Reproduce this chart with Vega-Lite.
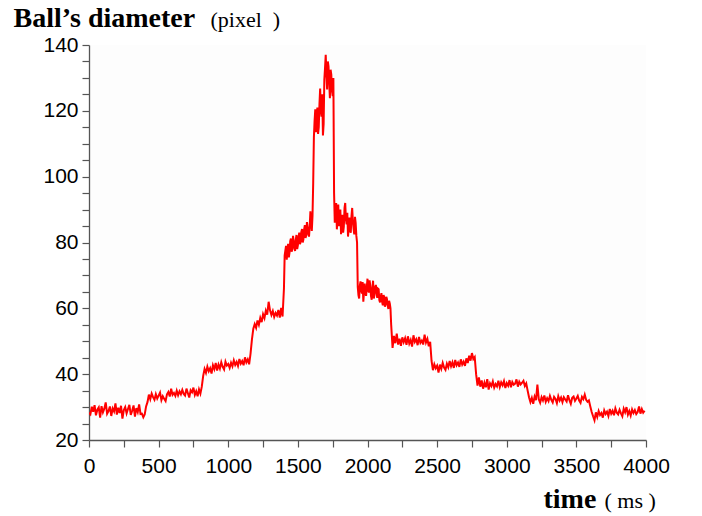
{
  "$schema": "https://vega.github.io/schema/vega-lite/v6.json",
  "width": 557,
  "height": 395,
  "autosize": {"type": "none"},
  "padding": {"left": 89, "top": 45, "right": 56, "bottom": 76},
  "background": "#ffffff",
  "config": {
    "view": {"stroke": null, "fill": "#fdfdfd"},
    "axis": {
      "grid": false,
      "domainColor": "#555555",
      "domainWidth": 1.3,
      "tickColor": "#555555",
      "tickWidth": 1.2,
      "tickSize": 7,
      "labelFont": "Liberation Sans",
      "labelFontSize": 21,
      "labelColor": "#000000",
      "labelOverlap": false,
      "labelFlush": false,
      "titleColor": "#000000",
      "titleFont": "Liberation Serif",
      "titleAngle": 0,
      "titleAlign": "left",
      "titleBaseline": "alphabetic"
    }
  },
  "data": {"values": [
    {"t":0,"d":28.3},{"t":10,"d":27.8},{"t":20,"d":30.1},{"t":30,"d":28.6},{"t":40,"d":30.6},{"t":50,"d":27.5},{"t":60,"d":29.2},{"t":70,"d":29.9},{"t":80,"d":26.8},{"t":90,"d":30.3},
    {"t":100,"d":28.4},{"t":110,"d":29.5},{"t":120,"d":31.4},{"t":130,"d":28.0},{"t":140,"d":28.8},{"t":150,"d":30.2},{"t":160,"d":27.3},{"t":170,"d":29.6},{"t":180,"d":28.7},{"t":190,"d":31.1},
    {"t":200,"d":27.7},{"t":210,"d":29.8},{"t":220,"d":28.2},{"t":230,"d":30.4},{"t":240,"d":26.5},{"t":250,"d":29.1},{"t":260,"d":30.0},{"t":270,"d":28.1},{"t":280,"d":29.4},{"t":290,"d":30.7},
    {"t":300,"d":27.6},{"t":310,"d":28.9},{"t":320,"d":30.5},{"t":330,"d":27.1},{"t":340,"d":29.7},{"t":350,"d":28.5},{"t":360,"d":30.8},{"t":370,"d":27.9},{"t":380,"d":28.0},{"t":390,"d":26.9},
    {"t":400,"d":27.8},{"t":410,"d":30.2},{"t":420,"d":31.5},{"t":430,"d":33.8},{"t":440,"d":32.4},{"t":450,"d":34.1},{"t":460,"d":33.0},{"t":470,"d":32.2},{"t":480,"d":33.9},{"t":490,"d":32.6},
    {"t":500,"d":33.5},{"t":510,"d":34.4},{"t":520,"d":32.1},{"t":530,"d":33.3},{"t":540,"d":32.5},{"t":550,"d":31.8},{"t":560,"d":33.9},{"t":570,"d":34.6},{"t":580,"d":33.2},{"t":590,"d":35.6},
    {"t":600,"d":33.7},{"t":610,"d":34.3},{"t":620,"d":33.4},{"t":630,"d":35.0},{"t":640,"d":33.6},{"t":650,"d":34.8},{"t":660,"d":33.9},{"t":670,"d":35.2},{"t":680,"d":34.0},{"t":690,"d":33.5},
    {"t":700,"d":35.6},{"t":710,"d":34.2},{"t":720,"d":32.9},{"t":730,"d":35.1},{"t":740,"d":34.5},{"t":750,"d":35.9},{"t":760,"d":33.7},{"t":770,"d":34.8},{"t":780,"d":33.3},{"t":790,"d":35.4},
    {"t":800,"d":34.1},{"t":810,"d":36.2},{"t":820,"d":39.5},{"t":830,"d":41.6},{"t":840,"d":40.4},{"t":850,"d":42.3},{"t":860,"d":40.9},{"t":870,"d":41.8},{"t":880,"d":40.2},{"t":890,"d":42.7},
    {"t":900,"d":41.5},{"t":910,"d":43.4},{"t":920,"d":41.1},{"t":930,"d":42.9},{"t":940,"d":41.7},{"t":950,"d":43.6},{"t":960,"d":42.2},{"t":970,"d":41.4},{"t":980,"d":43.8},{"t":990,"d":42.6},
    {"t":1000,"d":43.1},{"t":1010,"d":41.9},{"t":1020,"d":43.5},{"t":1030,"d":42.4},{"t":1040,"d":44.2},{"t":1050,"d":42.8},{"t":1060,"d":43.7},{"t":1070,"d":42.5},{"t":1080,"d":44.6},{"t":1090,"d":43.2},
    {"t":1100,"d":44.0},{"t":1110,"d":42.7},{"t":1120,"d":45.1},{"t":1130,"d":43.6},{"t":1140,"d":44.5},{"t":1150,"d":43.0},{"t":1160,"d":46.2},{"t":1170,"d":50.5},{"t":1180,"d":53.8},{"t":1190,"d":55.2},
    {"t":1200,"d":54.1},{"t":1210,"d":56.3},{"t":1220,"d":55.0},{"t":1230,"d":57.1},{"t":1240,"d":55.8},{"t":1250,"d":58.2},{"t":1260,"d":57.0},{"t":1270,"d":59.3},{"t":1280,"d":58.1},{"t":1290,"d":62.0},
    {"t":1300,"d":59.4},{"t":1310,"d":58.0},{"t":1320,"d":59.2},{"t":1330,"d":57.4},{"t":1340,"d":58.6},{"t":1350,"d":57.8},{"t":1360,"d":59.5},{"t":1370,"d":57.2},{"t":1380,"d":60.1},{"t":1390,"d":57.5},
    {"t":1400,"d":66.0},{"t":1410,"d":77.5},{"t":1420,"d":74.8},{"t":1430,"d":79.6},{"t":1440,"d":76.9},{"t":1450,"d":81.2},{"t":1460,"d":78.0},{"t":1470,"d":80.5},{"t":1480,"d":77.4},{"t":1490,"d":82.3},
    {"t":1500,"d":79.1},{"t":1510,"d":83.0},{"t":1520,"d":80.2},{"t":1530,"d":84.1},{"t":1540,"d":81.0},{"t":1550,"d":85.3},{"t":1560,"d":82.2},{"t":1570,"d":84.6},{"t":1580,"d":81.8},{"t":1590,"d":89.5},
    {"t":1600,"d":83.5},{"t":1610,"d":98.0},{"t":1620,"d":117.0},{"t":1630,"d":113.5},{"t":1640,"d":121.0},{"t":1650,"d":115.0},{"t":1660,"d":126.8},{"t":1670,"d":118.2},{"t":1680,"d":112.5},{"t":1690,"d":129.5},
    {"t":1700,"d":137.0},{"t":1710,"d":126.5},{"t":1720,"d":133.5},{"t":1730,"d":123.8},{"t":1740,"d":131.0},{"t":1750,"d":124.5},{"t":1760,"d":95.0},{"t":1770,"d":89.5},{"t":1780,"d":84.0},{"t":1790,"d":91.5},
    {"t":1800,"d":86.2},{"t":1810,"d":82.5},{"t":1820,"d":88.4},{"t":1830,"d":84.8},{"t":1840,"d":92.0},{"t":1850,"d":85.5},{"t":1860,"d":81.8},{"t":1870,"d":87.6},{"t":1880,"d":83.0},{"t":1890,"d":90.5},
    {"t":1900,"d":84.2},{"t":1910,"d":87.8},{"t":1920,"d":82.0},{"t":1930,"d":66.5},{"t":1940,"d":63.0},{"t":1950,"d":68.2},{"t":1960,"d":64.5},{"t":1970,"d":62.0},{"t":1980,"d":67.5},{"t":1990,"d":63.8},
    {"t":2000,"d":69.0},{"t":2010,"d":64.8},{"t":2020,"d":66.9},{"t":2030,"d":62.6},{"t":2040,"d":68.4},{"t":2050,"d":64.0},{"t":2060,"d":67.1},{"t":2070,"d":63.2},{"t":2080,"d":65.8},{"t":2090,"d":61.8},
    {"t":2100,"d":64.6},{"t":2110,"d":60.9},{"t":2120,"d":63.5},{"t":2130,"d":61.2},{"t":2140,"d":62.8},{"t":2150,"d":59.8},{"t":2160,"d":61.5},{"t":2170,"d":55.0},{"t":2180,"d":48.0},{"t":2190,"d":51.6},
    {"t":2200,"d":49.4},{"t":2210,"d":52.3},{"t":2220,"d":49.0},{"t":2230,"d":50.8},{"t":2240,"d":48.6},{"t":2250,"d":51.2},{"t":2260,"d":49.7},{"t":2270,"d":50.9},{"t":2280,"d":48.9},{"t":2290,"d":51.5},
    {"t":2300,"d":49.3},{"t":2310,"d":50.4},{"t":2320,"d":48.4},{"t":2330,"d":51.8},{"t":2340,"d":49.8},{"t":2350,"d":50.6},{"t":2360,"d":48.8},{"t":2370,"d":51.3},{"t":2380,"d":49.5},{"t":2390,"d":50.2},
    {"t":2400,"d":49.0},{"t":2410,"d":52.0},{"t":2420,"d":49.6},{"t":2430,"d":50.7},{"t":2440,"d":48.5},{"t":2450,"d":49.8},{"t":2460,"d":44.0},{"t":2470,"d":41.2},{"t":2480,"d":43.0},{"t":2490,"d":41.8},
    {"t":2500,"d":42.6},{"t":2510,"d":40.5},{"t":2520,"d":42.9},{"t":2530,"d":41.6},{"t":2540,"d":43.4},{"t":2550,"d":42.0},{"t":2560,"d":41.3},{"t":2570,"d":43.2},{"t":2580,"d":42.1},{"t":2590,"d":44.0},
    {"t":2600,"d":42.4},{"t":2610,"d":43.6},{"t":2620,"d":41.9},{"t":2630,"d":44.3},{"t":2640,"d":42.7},{"t":2650,"d":43.5},{"t":2660,"d":42.2},{"t":2670,"d":44.5},{"t":2680,"d":42.9},{"t":2690,"d":43.8},
    {"t":2700,"d":42.5},{"t":2710,"d":44.8},{"t":2720,"d":43.4},{"t":2730,"d":45.6},{"t":2740,"d":44.1},{"t":2750,"d":46.4},{"t":2760,"d":44.6},{"t":2770,"d":45.2},{"t":2780,"d":40.0},{"t":2790,"d":36.5},
    {"t":2800,"d":39.0},{"t":2810,"d":36.2},{"t":2820,"d":38.1},{"t":2830,"d":35.6},{"t":2840,"d":37.4},{"t":2850,"d":36.0},{"t":2860,"d":38.5},{"t":2870,"d":35.3},{"t":2880,"d":37.2},{"t":2890,"d":36.4},
    {"t":2900,"d":37.8},{"t":2910,"d":35.9},{"t":2920,"d":37.0},{"t":2930,"d":36.3},{"t":2940,"d":38.0},{"t":2950,"d":36.1},{"t":2960,"d":37.5},{"t":2970,"d":36.6},{"t":2980,"d":37.9},{"t":2990,"d":35.8},
    {"t":3000,"d":37.3},{"t":3010,"d":36.5},{"t":3020,"d":38.2},{"t":3030,"d":36.0},{"t":3040,"d":37.6},{"t":3050,"d":36.8},{"t":3060,"d":37.1},{"t":3070,"d":38.4},{"t":3080,"d":36.2},{"t":3090,"d":37.7},
    {"t":3100,"d":36.9},{"t":3110,"d":37.4},{"t":3120,"d":38.0},{"t":3130,"d":36.4},{"t":3140,"d":37.2},{"t":3150,"d":35.0},{"t":3160,"d":33.0},{"t":3170,"d":31.5},{"t":3180,"d":32.8},{"t":3190,"d":31.0},
    {"t":3200,"d":33.2},{"t":3210,"d":32.1},{"t":3220,"d":36.8},{"t":3230,"d":32.4},{"t":3240,"d":31.3},{"t":3250,"d":33.0},{"t":3260,"d":32.0},{"t":3270,"d":33.5},{"t":3280,"d":31.6},{"t":3290,"d":32.7},
    {"t":3300,"d":31.8},{"t":3310,"d":33.4},{"t":3320,"d":32.2},{"t":3330,"d":31.4},{"t":3340,"d":33.1},{"t":3350,"d":32.5},{"t":3360,"d":31.2},{"t":3370,"d":33.3},{"t":3380,"d":32.0},{"t":3390,"d":32.9},
    {"t":3400,"d":31.5},{"t":3410,"d":33.0},{"t":3420,"d":32.3},{"t":3430,"d":31.7},{"t":3440,"d":33.6},{"t":3450,"d":32.1},{"t":3460,"d":31.0},{"t":3470,"d":32.8},{"t":3480,"d":33.2},{"t":3490,"d":31.9},
    {"t":3500,"d":32.6},{"t":3510,"d":33.4},{"t":3520,"d":32.0},{"t":3530,"d":31.3},{"t":3540,"d":33.1},{"t":3550,"d":32.4},{"t":3560,"d":33.8},{"t":3570,"d":32.2},{"t":3580,"d":31.6},{"t":3590,"d":32.0},
    {"t":3600,"d":30.2},{"t":3610,"d":28.5},{"t":3620,"d":27.2},{"t":3630,"d":26.0},{"t":3640,"d":28.4},{"t":3650,"d":27.0},{"t":3660,"d":28.8},{"t":3670,"d":27.6},{"t":3680,"d":28.2},{"t":3690,"d":26.8},
    {"t":3700,"d":29.0},{"t":3710,"d":27.9},{"t":3720,"d":28.6},{"t":3730,"d":27.3},{"t":3740,"d":29.4},{"t":3750,"d":28.0},{"t":3760,"d":28.9},{"t":3770,"d":27.5},{"t":3780,"d":29.6},{"t":3790,"d":28.3},
    {"t":3800,"d":27.8},{"t":3810,"d":29.2},{"t":3820,"d":28.1},{"t":3830,"d":27.2},{"t":3840,"d":29.5},{"t":3850,"d":28.4},{"t":3860,"d":30.0},{"t":3870,"d":27.7},{"t":3880,"d":28.8},{"t":3890,"d":27.4},
    {"t":3900,"d":29.3},{"t":3910,"d":28.2},{"t":3920,"d":29.1},{"t":3930,"d":27.9},{"t":3940,"d":28.5},{"t":3950,"d":30.2},{"t":3960,"d":28.0},{"t":3970,"d":29.4},{"t":3980,"d":28.3},{"t":3990,"d":28.9},
    {"t":1405,"d":76.0},{"t":1415,"d":79.0},{"t":1425,"d":77.8},{"t":1435,"d":75.5},{"t":1445,"d":80.4},{"t":1455,"d":77.2},{"t":1465,"d":82.0},{"t":1475,"d":78.3},{"t":1485,"d":80.9},{"t":1495,"d":78.0},
    {"t":1505,"d":81.8},{"t":1515,"d":79.5},{"t":1525,"d":83.3},{"t":1535,"d":80.0},{"t":1545,"d":84.0},{"t":1555,"d":81.4},{"t":1565,"d":86.2},{"t":1575,"d":82.5},{"t":1585,"d":85.0},{"t":1595,"d":86.0},
    {"t":1605,"d":88.0},{"t":1615,"d":112.0},{"t":1625,"d":120.5},{"t":1635,"d":118.0},{"t":1645,"d":113.0},{"t":1655,"d":122.0},{"t":1665,"d":120.0},{"t":1675,"d":125.0},{"t":1685,"d":116.0},{"t":1695,"d":133.0},
    {"t":1705,"d":131.0},{"t":1715,"d":135.0},{"t":1725,"d":128.5},{"t":1735,"d":132.5},{"t":1745,"d":126.0},{"t":1755,"d":130.0},{"t":1765,"d":86.0},{"t":1775,"d":92.0},{"t":1785,"d":88.0},{"t":1795,"d":85.0},
    {"t":1805,"d":90.0},{"t":1815,"d":86.5},{"t":1825,"d":83.0},{"t":1835,"d":90.5},{"t":1845,"d":87.0},{"t":1855,"d":89.0},{"t":1865,"d":84.5},{"t":1875,"d":83.5},{"t":1885,"d":88.0},{"t":1895,"d":86.5},
    {"t":1905,"d":82.5},{"t":1915,"d":86.0},{"t":1925,"d":80.0},{"t":1935,"d":64.0},{"t":1945,"d":67.0},{"t":1955,"d":65.5},{"t":1965,"d":68.0},{"t":1975,"d":65.0},{"t":1985,"d":64.5},{"t":1995,"d":66.5},
    {"t":2005,"d":65.5},{"t":2015,"d":68.5},{"t":2025,"d":63.8},{"t":2035,"d":66.0},{"t":2045,"d":63.0},{"t":2055,"d":66.5},{"t":2065,"d":64.8},{"t":2075,"d":66.0},{"t":2085,"d":62.5},{"t":2095,"d":63.5},
    {"t":2105,"d":62.0},{"t":2115,"d":64.0},{"t":2125,"d":60.5},{"t":2135,"d":63.5},{"t":2145,"d":60.8},{"t":2155,"d":62.3},{"t":2165,"d":60.0}
  ]},
  "layer": [
    {
      "mark": {"type": "line", "color": "#ff0000", "strokeWidth": 2, "clip": true},
      "encoding": {
        "x": {
          "field": "t", "type": "quantitative",
          "scale": {"domain": [0, 4000], "nice": false, "zero": false},
          "axis": {
            "orient": "bottom",
            "values": [0,250,500,750,1000,1250,1500,1750,2000,2250,2500,2750,3000,3250,3500,3750,4000],
            "format": "d",
            "labelExpr": "datum.value % 500 === 0 ? datum.label : ''",
            "labelPadding": 8,
            "title": "time",
            "titleFontSize": 28,
            "titleFontWeight": "bold",
            "titleX": 454,
            "titleY": 67
          }
        },
        "y": {
          "field": "d", "type": "quantitative",
          "scale": {"domain": [20, 140], "nice": false, "zero": false},
          "axis": {
            "orient": "left",
            "values": [20,25,30,35,40,45,50,55,60,65,70,75,80,85,90,95,100,105,110,115,120,125,130,135,140],
            "format": "d",
            "labelExpr": "datum.value % 20 === 0 ? datum.label : ''",
            "labelPadding": 4,
            "title": "Ball’s diameter",
            "titleFontSize": 28,
            "titleFontWeight": "bold",
            "titleX": -76,
            "titleY": -19
          }
        }
      }
    },
    {
      "mark": {"type": "point", "opacity": 0, "size": 1},
      "encoding": {
        "x": {
          "field": "t", "type": "quantitative",
          "axis": {
            "orient": "bottom",
            "domain": false, "ticks": false, "labels": false,
            "title": "( ms )",
            "titleFontSize": 22,
            "titleFontWeight": "normal",
            "titleX": 515,
            "titleY": 67
          }
        },
        "y": {
          "field": "d", "type": "quantitative",
          "axis": {
            "orient": "left",
            "domain": false, "ticks": false, "labels": false,
            "title": "(pixel\u00a0\u00a0)",
            "titleFontSize": 22,
            "titleFontWeight": "normal",
            "titleX": 121,
            "titleY": -19
          }
        }
      }
    }
  ],
  "resolve": {"axis": {"x": "independent", "y": "independent"}}
}
